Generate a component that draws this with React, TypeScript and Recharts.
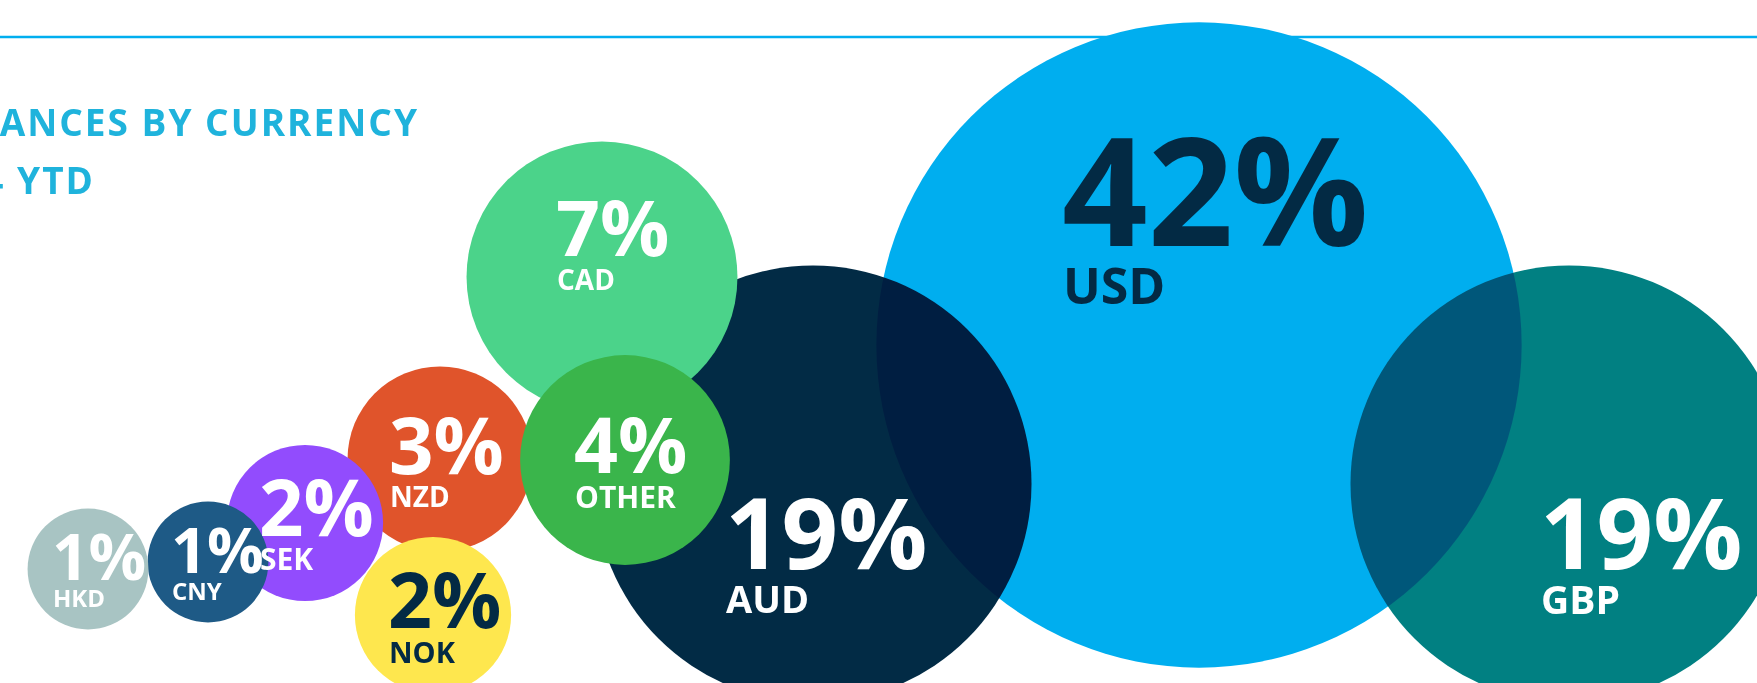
import React from "react";
import { ScatterChart, Scatter, XAxis, YAxis, ZAxis } from "recharts";

// drawing order matters: later bubbles sit on top
const currencies = ["USD", "GBP", "AUD", "CAD", "NZD", "OTHER", "SEK", "NOK", "CNY", "HKD"];
const shares = [42, 19, 19, 7, 3, 4, 2, 2, 1, 1];
// bubble centres on the layout grid (x to the right, y downwards)
const bubbleX = [1199, 1569, 813, 602, 440, 625, 305, 433, 208, 88];
const bubbleY = [345, 484, 484, 277, 459, 460, 523, 615, 562, 569];

const titleLines = ["BALANCES BY CURRENCY", "2024 YTD"];

const W = 1757;
const H = 683;
const FONT = "'Open Sans', 'Noto Sans', sans-serif";
const DARK = "#032a44";

type Look = {
  fill: string;
  blend: "normal" | "multiply";
  text: string;
  dx: number;
  dy: number;
  big: number;
  small: number;
  gap: number;
};

const looks: Record<string, Look> = {
  USD: { fill: "#00aeef", blend: "normal", text: DARK, dx: -137, dy: -99, big: 150, small: 50, gap: 58 },
  GBP: { fill: "#018082", blend: "multiply", text: "#fff", dx: -29, dy: 85, big: 99, small: 39, gap: 45 },
  AUD: { fill: "#022b45", blend: "multiply", text: "#fff", dx: -88, dy: 85, big: 99, small: 38, gap: 44 },
  CAD: { fill: "#4bd38a", blend: "normal", text: "#fff", dx: -46, dy: -21, big: 77, small: 28, gap: 34 },
  NZD: { fill: "#e0542b", blend: "normal", text: "#fff", dx: -51, dy: 15, big: 78, small: 28, gap: 33 },
  OTHER: { fill: "#3ab54b", blend: "normal", text: "#fff", dx: -51, dy: 13, big: 77, small: 30, gap: 35 },
  SEK: { fill: "#924cfd", blend: "normal", text: "#fff", dx: -46, dy: 13, big: 78, small: 30, gap: 34 },
  NOK: { fill: "#fee74e", blend: "normal", text: DARK, dx: -45, dy: 13, big: 77, small: 29, gap: 35 },
  CNY: { fill: "#1e5a86", blend: "normal", text: "#fff", dx: -37, dy: 11, big: 63, small: 24, gap: 27 },
  HKD: { fill: "#a8c4c3", blend: "normal", text: "#fff", dx: -36, dy: 11, big: 64, small: 24, gap: 27 },
};

const data = currencies.map((code, i) => ({
  code,
  x: bubbleX[i],
  y: bubbleY[i],
  z: shares[i],
}));

const radiusOf = (p: any) =>
  p.size ? Math.sqrt(p.size / Math.PI) : (p.width || 0) / 2;

const Bubble = (props: any) => {
  const { cx, cy, payload } = props;
  const lk = looks[payload.code];
  return (
    <circle
      cx={cx}
      cy={cy}
      r={radiusOf(props)}
      fill={lk.fill}
      style={{ mixBlendMode: lk.blend }}
    />
  );
};

const BubbleLabel = (props: any) => {
  const { cx, cy, payload } = props;
  const lk = looks[payload.code];
  const x = cx + lk.dx;
  const y = cy + lk.dy;
  return (
    <g fontFamily={FONT} fontWeight={700} fill={lk.text}>
      <text x={x} y={y} fontSize={lk.big}>
        {payload.z}%
      </text>
      <text x={x + 1} y={y + lk.gap} fontSize={lk.small}>
        {payload.code}
      </text>
    </g>
  );
};

export default function App() {
  return (
    <div style={{ position: "absolute", left: 0, top: 0, width: W, height: H, background: "#fff", overflow: "hidden" }}>
      <svg width={W} height={H} style={{ position: "absolute", left: 0, top: 0 }}>
        <line x1={0} x2={W} y1={37} y2={37} stroke="#00aeef" strokeWidth={2.5} />
        <text x={419} y={136} textAnchor="end" fontFamily={FONT} fontWeight={700} fontSize={37} letterSpacing={2} fill="#1fb3dc">
          {titleLines[0]}
        </text>
        <text x={95} y={194} textAnchor="end" fontFamily={FONT} fontWeight={700} fontSize={37} letterSpacing={2} fill="#1fb3dc">
          {titleLines[1]}
        </text>
      </svg>
      <div style={{ position: "absolute", left: 0, top: 0 }}>
        <ScatterChart width={W} height={H} margin={{ top: 0, right: 0, bottom: 0, left: 0 }}>
          <XAxis type="number" dataKey="x" domain={[0, W]} hide />
          <YAxis type="number" dataKey="y" domain={[0, H]} reversed hide />
          <ZAxis type="number" dataKey="z" domain={[0, 42]} range={[3770, 327040]} />
          <Scatter data={data} shape={Bubble} isAnimationActive={false} />
          <Scatter data={data} shape={BubbleLabel} isAnimationActive={false} />
        </ScatterChart>
      </div>
    </div>
  );
}
